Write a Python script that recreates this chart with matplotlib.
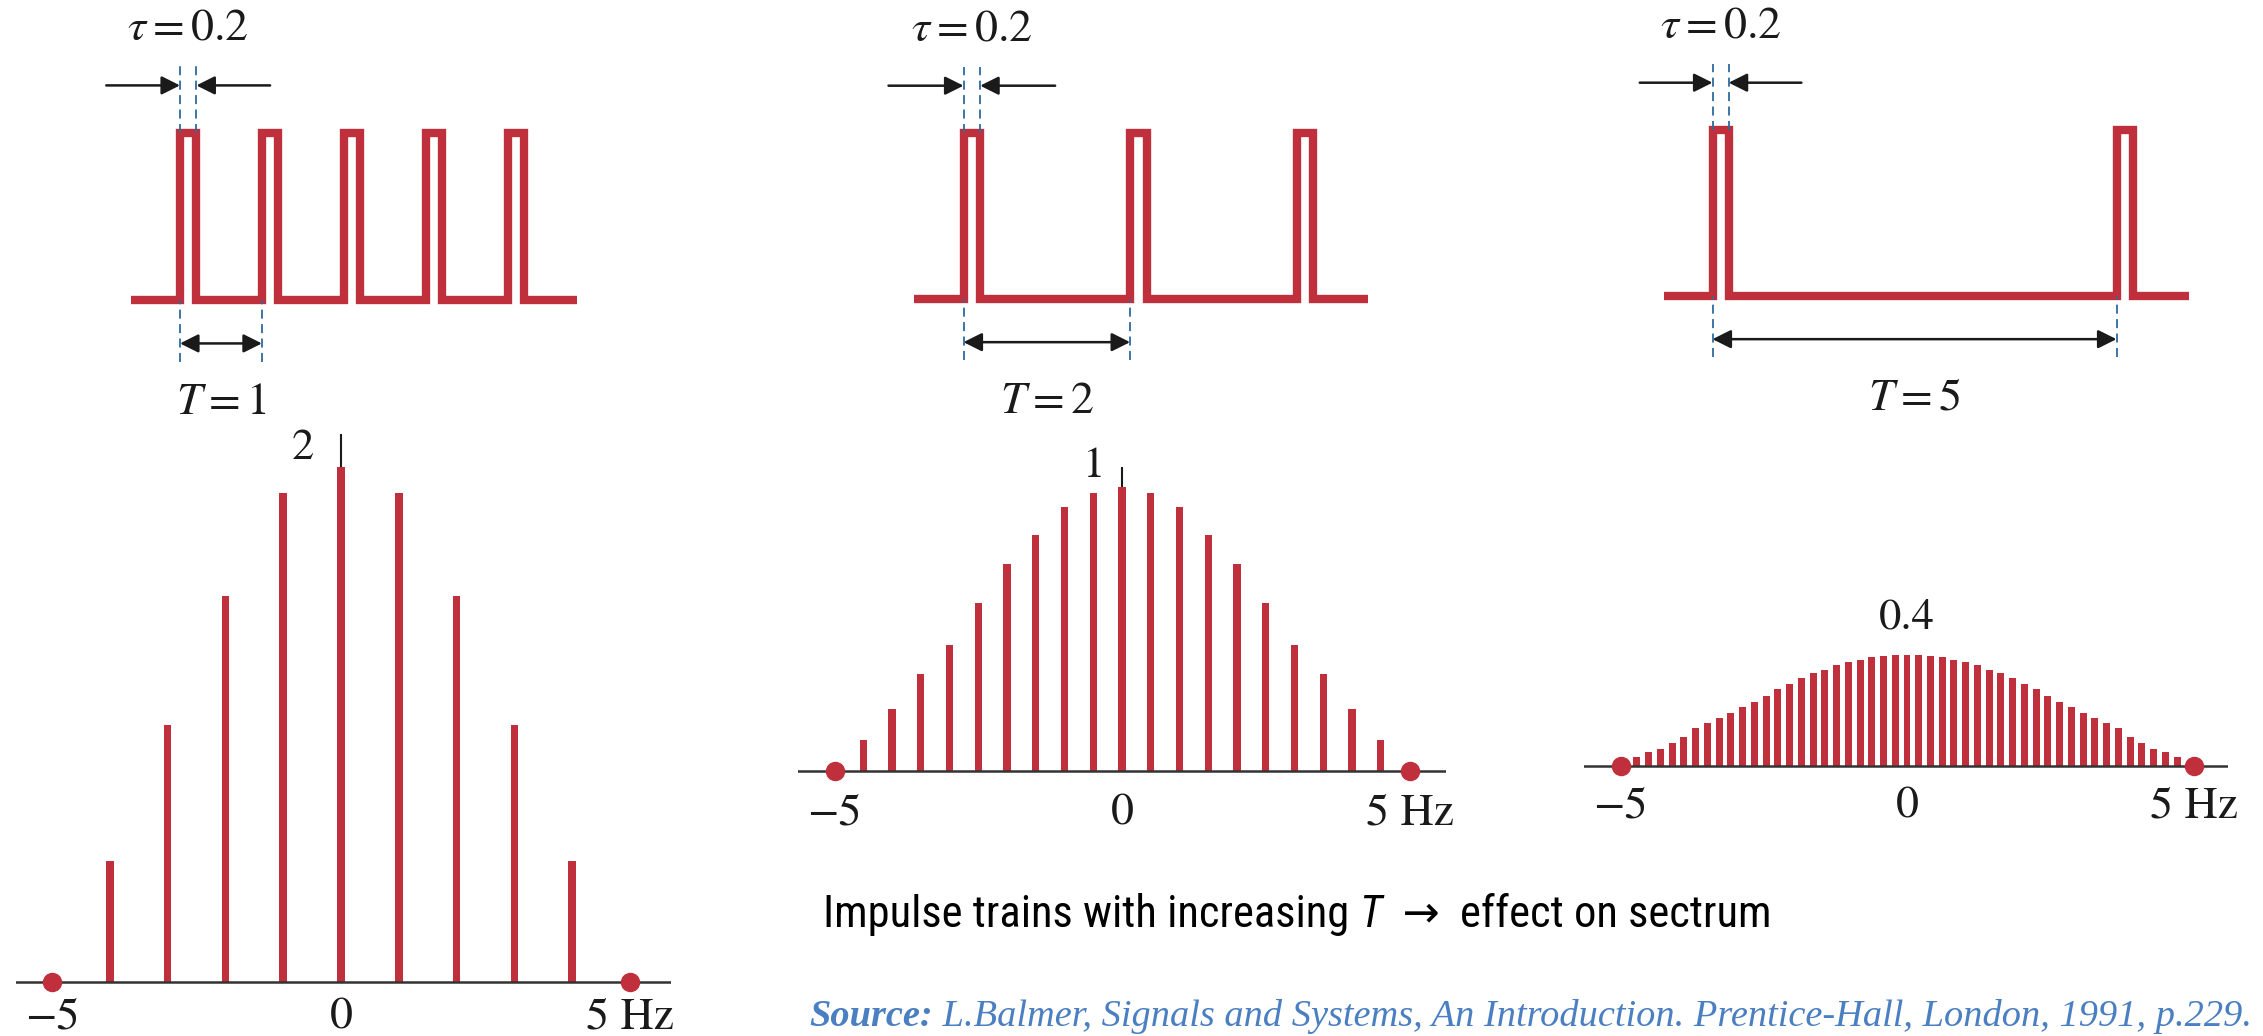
import matplotlib
matplotlib.use("Agg")
import matplotlib.pyplot as plt
from matplotlib import font_manager
import numpy as np

plt.rcParams['mathtext.fontset'] = 'stix'

# Rectangular pulse trains (unit height, width tau) for three periods T
periods = [1, 2, 5]
tau = 0.2
pulse_starts = {1: [0, 1, 2, 3, 4], 2: [0, 2, 4], 5: [0, 5]}
train_span = {1: (-0.6, 4.85), 2: (-0.6, 4.85), 5: (-0.6, 5.9)}

# Line spectra: centre line, then harmonic heights going outwards (k = 1, 2, ...)
peak = {1: 2.0, 2: 1.0, 5: 0.4}
peak_label = {1: '2', 2: '1', 5: '0.4'}
harm_step = {1: 1.0, 2: 0.5, 5: 0.205}
side_heights = {
    1: [1.9, 1.5, 1.0, 0.47],
    2: [0.98, 0.93, 0.83, 0.73, 0.59, 0.445, 0.34, 0.22, 0.11],
    5: [0.400, 0.397, 0.393, 0.383, 0.374, 0.364, 0.345, 0.335, 0.316,
        0.297, 0.277, 0.254, 0.232, 0.212, 0.193, 0.174, 0.155, 0.136,
        0.106, 0.084, 0.061, 0.050, 0.031],
}
band_edges = [-5, 5]
freq_ticks = [-5, 0, 5]
freq_tick_labels = ['\u22125', '0', '5 Hz']

W, H = 2263, 1036
RED = '#c0303c'
DASH = '#2d6a9f'
INK = '#1a1a1a'

# pixel layout: (x of origin, px per unit, y of origin, px per unit)
time_layout = {1: (180, 81.9, 300, 167), 2: (963.5, 83.3, 299, 166), 5: (1712.5, 80.8, 296, 166)}
freq_layout = {1: (341, 57.8, 982, 257.5), 2: (1122, 57.5, 771, 284), 5: (1907, 57.3, 766, 277)}
freq_xlim = {1: (-5.62, 5.71), 2: (-5.64, 5.63), 5: (-5.63, 5.6)}
peak_label_pos = {1: (-0.66, 2.07), 2: (-0.5, 1.07), 5: (0.0, 0.534)}
tick_label_drop = {1: 36, 2: 43, 5: 41}


def place_axes(fig, x0, xs, y0, ys, xlim, ylim):
    left = x0 + xlim[0] * xs
    bottom = y0 - ylim[0] * ys
    ax = fig.add_axes([left / W, 1 - bottom / H,
                       (xlim[1] - xlim[0]) * xs / W, (ylim[1] - ylim[0]) * ys / H])
    ax.set_xlim(xlim)
    ax.set_ylim(ylim)
    ax.axis('off')
    return ax


def draw_train(ax, T):
    t0, t1 = train_span[T]
    ts, ys = [t0], [0]
    for s in pulse_starts[T]:
        ts += [s, s, s + tau, s + tau]
        ys += [0, 1, 1, 0]
    ts.append(t1)
    ys.append(0)
    ax.plot(ts, ys, color=RED, lw=6, solid_joinstyle='miter', solid_capstyle='butt')

    dash = dict(colors=DASH, lw=1.3, linestyles=(0, (5, 3)))
    ax.vlines([0, tau], 1.0, 1.40, **dash)
    ax.vlines([0, T], -0.37, 0.0, **dash)

    head = dict(arrowstyle='-|>', color=INK, lw=1.8, mutation_scale=28,
                shrinkA=0, shrinkB=0)
    ax.annotate('', xy=(0, 1.285), xytext=(-0.9, 1.285), arrowprops=head)
    ax.annotate('', xy=(tau, 1.285), xytext=(tau + 0.9, 1.285), arrowprops=head)
    both = dict(head, arrowstyle='<|-|>')
    ax.annotate('', xy=(T, -0.26), xytext=(0, -0.26), arrowprops=both)

    ax.text(tau / 2, 1.635, r'$\tau = 0.2$', ha='center', va='center', fontsize=33, color=INK)
    ax.text(T / 2, -0.61, r'$T = %d$' % T, ha='center', va='center', fontsize=33, color=INK)


def draw_spectrum(ax, T):
    side = side_heights[T]
    heights = side[::-1] + [peak[T]] + side
    freqs = np.arange(-len(side), len(side) + 1) * harm_step[T]
    bar_w = 0.13 if T < 5 else 0.122
    ax.bar(freqs, heights, width=bar_w, color=RED, linewidth=0)
    ax.axhline(0, color='#333333', lw=1.8)
    ax.plot(band_edges, [0] * len(band_edges), 'o', color=RED, ms=13, zorder=3, clip_on=False)

    lx, ly = peak_label_pos[T]
    ax.text(lx, ly, peak_label[T], ha='center', va='center', fontsize=32,
            family='STIXGeneral', color=INK)
    if T < 5:
        ax.vlines(0, peak[T], peak[T] * 1.06 + 0.01, color=INK, lw=1.5)

    for f, lab in zip(freq_ticks, freq_tick_labels):
        ax.annotate(lab, xy=(f, 0), xytext=(0, -tick_label_drop[T] * 0.72),
                    textcoords='offset points', ha='center', va='center',
                    fontsize=33, family='STIXGeneral', color=INK)


fig = plt.figure(figsize=(W / 100, H / 100), dpi=100)
fig.patch.set_facecolor('white')

for T in periods:
    x0, xs, y0, ys = time_layout[T]
    t0, t1 = train_span[T]
    ax = place_axes(fig, x0, xs, y0, ys, (t0 - 0.5, t1 + 0.1), (-0.85, 1.75))
    draw_train(ax, T)

    x0, xs, y0, ys = freq_layout[T]
    ax = place_axes(fig, x0, xs, y0, ys, freq_xlim[T], (-0.05, peak[T] * 1.15))
    draw_spectrum(ax, T)

# caption and source line, pieces chained left to right
base = fig.add_axes([0, 0, 1, 1])
base.axis('off')
base.set_xlim(0, W)
base.set_ylim(H, 0)

installed = {f.name for f in font_manager.fontManager.ttflist}
cap_family, cap_size = 'Liberation Sans', 29
for name in ['Liberation Sans Narrow', 'Roboto Condensed']:
    if name in installed:
        cap_family, cap_size = name, 32
        break
sans = [cap_family, 'DejaVu Sans']

prev = base.text(823, 927, 'Impulse trains with increasing ', fontsize=cap_size,
                 family=sans, va='baseline', ha='left', color='black')
for piece, style in [('T', 'italic'), ('  \u2192  ', 'normal'), ('effect on sectrum', 'normal')]:
    prev = base.annotate(piece, xy=(1, 0), xycoords=prev, va='bottom', ha='left',
                         fontsize=cap_size, family=sans, style=style, color='black')

SRC = '#4a7fc1'
src = base.text(809, 1026, 'Source:', fontsize=27.6, family='Liberation Serif',
                style='italic', weight='bold', va='baseline', ha='left', color=SRC)
base.annotate(' L.Balmer, Signals and Systems, An Introduction. Prentice-Hall, London, 1991, p.229.',
              xy=(1, 0), xycoords=src, va='bottom', ha='left', fontsize=27.6,
              family='Liberation Serif', style='italic', color=SRC)

fig.savefig('out.png', dpi=100, facecolor='white')
